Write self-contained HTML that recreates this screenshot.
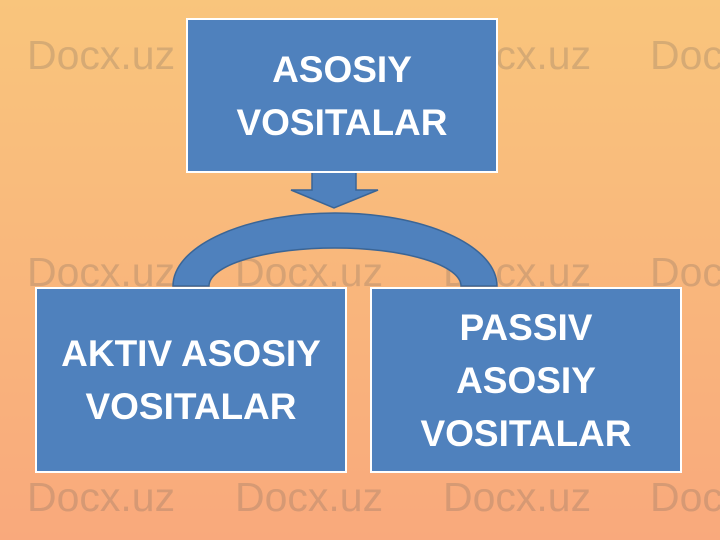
<!DOCTYPE html>
<html><head><style>
body{margin:0;width:720px;height:540px;overflow:hidden;background:linear-gradient(#F9C57C,#F9A97C);position:relative;font-family:"Liberation Sans",sans-serif}
.wm{position:absolute;font-size:41px;color:rgba(110,100,90,0.25);white-space:nowrap}
.box{position:absolute;background:#4F81BD;border:2px solid #fff;box-sizing:border-box;color:#fff;font-weight:bold;font-size:37px;display:flex;align-items:center;justify-content:center;text-align:center;line-height:53px}
</style></head><body>
<div class="wm" style="left:27px;top:32px">Docx.uz</div>
<div class="wm" style="left:235px;top:32px">Docx.uz</div>
<div class="wm" style="left:443px;top:32px">Docx.uz</div>
<div class="wm" style="left:650px;top:32px">Docx.uz</div>
<div class="wm" style="left:27px;top:249px">Docx.uz</div>
<div class="wm" style="left:235px;top:249px">Docx.uz</div>
<div class="wm" style="left:443px;top:249px">Docx.uz</div>
<div class="wm" style="left:650px;top:249px">Docx.uz</div>
<div class="wm" style="left:27px;top:474px">Docx.uz</div>
<div class="wm" style="left:235px;top:474px">Docx.uz</div>
<div class="wm" style="left:443px;top:474px">Docx.uz</div>
<div class="wm" style="left:650px;top:474px">Docx.uz</div>
<svg width="720" height="540" style="position:absolute;left:0;top:0">
<path d="M312 172 H356 V190 H378 L334 208 L291 190 H312 Z" fill="#4F81BD" stroke="#3A6596" stroke-width="1.5"/>
<path d="M173 286 A162 73 0 0 1 497 286 H461 A126 38 0 0 0 209 286 Z" fill="#4F81BD" stroke="#3A6596" stroke-width="1.5"/>
</svg>
<div class="box" style="left:186px;top:18px;width:312px;height:155px">ASOSIY<br>VOSITALAR</div>
<div class="box" style="left:35px;top:287px;width:312px;height:186px">AKTIV ASOSIY<br>VOSITALAR</div>
<div class="box" style="left:370px;top:287px;width:312px;height:186px">PASSIV<br>ASOSIY<br>VOSITALAR</div>
</body></html>
